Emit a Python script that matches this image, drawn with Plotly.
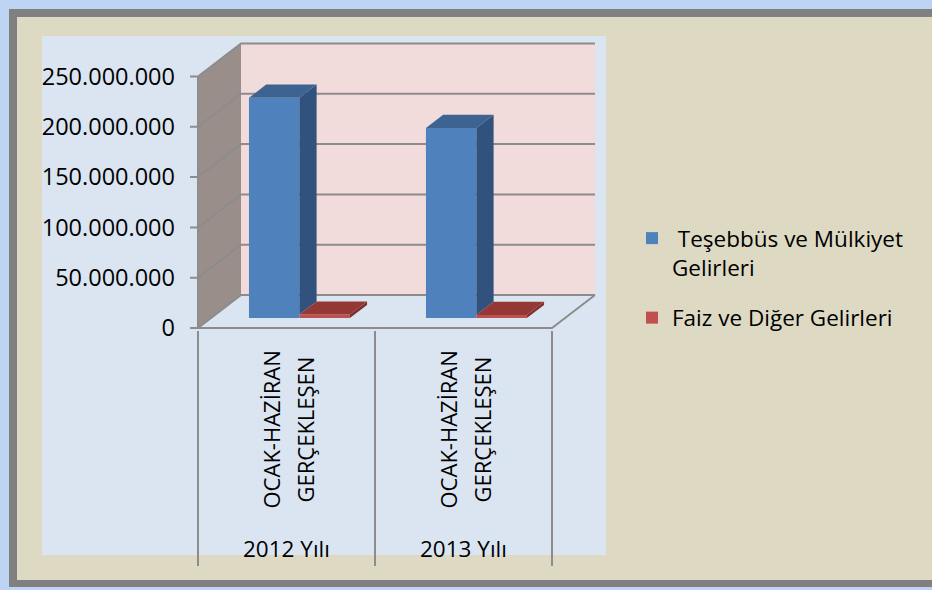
import plotly.graph_objects as go

# ---------------- data ----------------
categories = ["2012 Yılı", "2013 Yılı"]
period_line1 = "OCAK-HAZİRAN"
period_line2 = "GERÇEKLEŞEN"
series_names = [" Teşebbüs ve Mülkiyet<br>Gelirleri", "Faiz ve Diğer Gelirleri"]
tesebbus_values = [219_000_000, 189_000_000]
faiz_values = [3_500_000, 3_200_000]
tick_values = [0, 50_000_000, 100_000_000, 150_000_000, 200_000_000, 250_000_000]
tick_labels = ["0", "50.000.000", "100.000.000", "150.000.000", "200.000.000", "250.000.000"]

# ---------------- geometry / style ----------------
W_PX, H_PX = 932, 590
M_L, M_R, M_T, M_B = 188, 334, 41, 260
PX_PER_UNIT = 177.0          # pixels per category
PX_PER_VAL = 1.006e-6        # pixels per value unit
DEPTH_DX = 43 / PX_PER_UNIT  # oblique depth shift (x units)
DEPTH_DY = 33 / PX_PER_VAL   # oblique depth shift (value units)
BAR_D0, BAR_D1 = 0.3, 0.7
BAR_W = 0.285
AXMAX = tick_values[-1]

plot_w = W_PX - M_L - M_R
plot_h = H_PX - M_T - M_B
x0 = -0.5 - 10 / PX_PER_UNIT
x1 = x0 + plot_w / PX_PER_UNIT
y0 = -2 / PX_PER_VAL
y1 = y0 + plot_h / PX_PER_VAL

def px2paper_x(px):
    return (px - M_L) / plot_w

def px2paper_y(py):
    return (H_PX - M_B - py) / plot_h

ncat = len(categories)
xl, xr = -0.5, ncat - 0.5

BEIGE = "#DDD9C3"
PANEL = "#DBE5F1"
WALL_BACK = "#F2DCDB"
WALL_SIDE = "#9A8E8B"
GRID = "#8C8C8C"
BLUE, BLUE_SIDE, BLUE_TOP = "#4F81BD", "#31527C", "#3C6391"
RED, RED_SIDE, RED_TOP = "#C0504D", "#7E2F2D", "#943836"
FONT = "Open Sans"

def path(pts, close=True):
    s = "M " + " L ".join(f"{x},{y}" for x, y in pts)
    return s + (" Z" if close else "")

shapes = []
# frame and panel (paper coordinates)
shapes.append(dict(type="rect", xref="paper", yref="paper", layer="below",
                   x0=px2paper_x(9), x1=px2paper_x(W_PX), y0=px2paper_y(9), y1=px2paper_y(587),
                   fillcolor="#808080", line=dict(width=0)))
shapes.append(dict(type="rect", xref="paper", yref="paper", layer="below",
                   x0=px2paper_x(17), x1=px2paper_x(W_PX), y0=px2paper_y(17), y1=px2paper_y(580),
                   fillcolor=BEIGE, line=dict(width=0)))
shapes.append(dict(type="rect", xref="paper", yref="paper", layer="below",
                   x0=px2paper_x(42), x1=px2paper_x(606), y0=px2paper_y(36), y1=px2paper_y(555),
                   fillcolor=PANEL, line=dict(width=0)))

# walls and floor (data coordinates)
shapes.append(dict(type="path", xref="x", yref="y", layer="below", line=dict(width=0),
                   fillcolor=WALL_SIDE,
                   path=path([(xl, 0), (xl, AXMAX), (xl + DEPTH_DX, AXMAX + DEPTH_DY), (xl + DEPTH_DX, DEPTH_DY)])))
shapes.append(dict(type="path", xref="x", yref="y", layer="below", line=dict(width=0),
                   fillcolor=WALL_BACK,
                   path=path([(xl + DEPTH_DX, DEPTH_DY), (xl + DEPTH_DX, AXMAX + DEPTH_DY),
                              (xr + DEPTH_DX, AXMAX + DEPTH_DY), (xr + DEPTH_DX, DEPTH_DY)])))
# gridlines: tick, side-wall diagonal, back-wall horizontal
for v in tick_values:
    shapes.append(dict(type="path", xref="x", yref="y", layer="below",
                       line=dict(color=GRID, width=2),
                       path=path([(xl - 8 / PX_PER_UNIT, v), (xl, v), (xl + DEPTH_DX, v + DEPTH_DY),
                                  (xr + DEPTH_DX, v + DEPTH_DY)], close=False)))
# floor front & right edge, side wall front edge
shapes.append(dict(type="path", xref="x", yref="y", layer="below",
                   line=dict(color=GRID, width=2),
                   path=path([(xl, AXMAX), (xl, 0), (xr, 0), (xr + DEPTH_DX, DEPTH_DY)], close=False)))

fig = go.Figure()

# front faces of bars
groups = [(tesebbus_values, series_names[0], BLUE, BLUE_SIDE, BLUE_TOP, -BAR_W),
          (faiz_values, series_names[1], RED, RED_SIDE, RED_TOP, 0.0)]
base = BAR_D0 * DEPTH_DY
shift = BAR_D0 * DEPTH_DX
for vals, name, c, cs, ct, off in groups:
    fig.add_trace(go.Bar(x=list(range(ncat)), y=vals, base=[base] * ncat,
                         offset=shift + off, width=BAR_W, name=name,
                         marker=dict(color=c, line=dict(width=0)),
                         legendgroup=name, hoverinfo="skip"))

ddx = (BAR_D1 - BAR_D0) * DEPTH_DX
ddy = (BAR_D1 - BAR_D0) * DEPTH_DY
for gi, (vals, name, c, cs, ct, off) in enumerate(groups):
    for i, v in enumerate(vals):
        left = i + shift + off
        right = left + BAR_W
        top = base + v
        # visible part of right side face (hidden below neighbouring bar on the right)
        low = base
        if gi + 1 < len(groups):
            low = base + groups[gi + 1][0][i]
        sx = [right, right + ddx, right + ddx, right, right]
        sy = [low, low + ddy, top + ddy, top, low]
        fig.add_trace(go.Scatter(x=sx, y=sy, fill="toself", fillcolor=cs, mode="lines",
                                 line=dict(width=0, color=cs), showlegend=False, hoverinfo="skip"))
        tx = [left, right, right + ddx, left + ddx, left]
        ty = [top, top, top + ddy, top + ddy, top]
        fig.add_trace(go.Scatter(x=tx, y=ty, fill="toself", fillcolor=ct, mode="lines",
                                 line=dict(width=0, color=ct), showlegend=False, hoverinfo="skip"))

annotations = []
for i, cat in enumerate(categories):
    for txt, xs in ((period_line1, -16), (period_line2, 18)):
        annotations.append(dict(x=i, y=px2paper_y(430), xref="x", yref="paper", text=txt,
                                textangle=-90, showarrow=False, xshift=xs,
                                xanchor="center", yanchor="middle",
                                font=dict(family=FONT, size=22, color="black")))
    annotations.append(dict(x=i, y=px2paper_y(548), xref="x", yref="paper", text=cat,
                            showarrow=False, xanchor="center", yanchor="middle",
                            font=dict(family=FONT, size=22.5, color="black")))

fig.update_layout(
    width=W_PX, height=H_PX,
    margin=dict(l=M_L, r=M_R, t=M_T, b=M_B),
    paper_bgcolor="#BDD5F2", plot_bgcolor="rgba(0,0,0,0)",
    barmode="overlay",
    shapes=shapes, annotations=annotations,
    font=dict(family=FONT, size=22, color="black"),
    showlegend=True,
    legend=dict(x=px2paper_x(632), y=px2paper_y(217), xanchor="left", yanchor="top",
                bgcolor="rgba(0,0,0,0)", valign="top", tracegroupgap=18,
                font=dict(family=FONT, size=22.5, color="black")),
    xaxis=dict(range=[x0, x1], showgrid=False, zeroline=False, showline=False,
               tickmode="array", tickvals=[xl + k for k in range(ncat + 1)], ticktext=[""] * (ncat + 1),
               ticks="outside", ticklen=235, tickwidth=2, tickcolor=GRID, fixedrange=True),
    yaxis=dict(range=[y0, y1], showgrid=False, zeroline=False, showline=False,
               tickmode="array", tickvals=tick_values, ticktext=tick_labels, ticks="",
               ticklabelstandoff=12, tickfont=dict(family=FONT, size=23.5, color="black"),
               fixedrange=True),
)

fig.write_html("out.html", config={"displayModeBar": False},
               post_script="document.body.style.margin='0';document.body.style.overflow='hidden';")
